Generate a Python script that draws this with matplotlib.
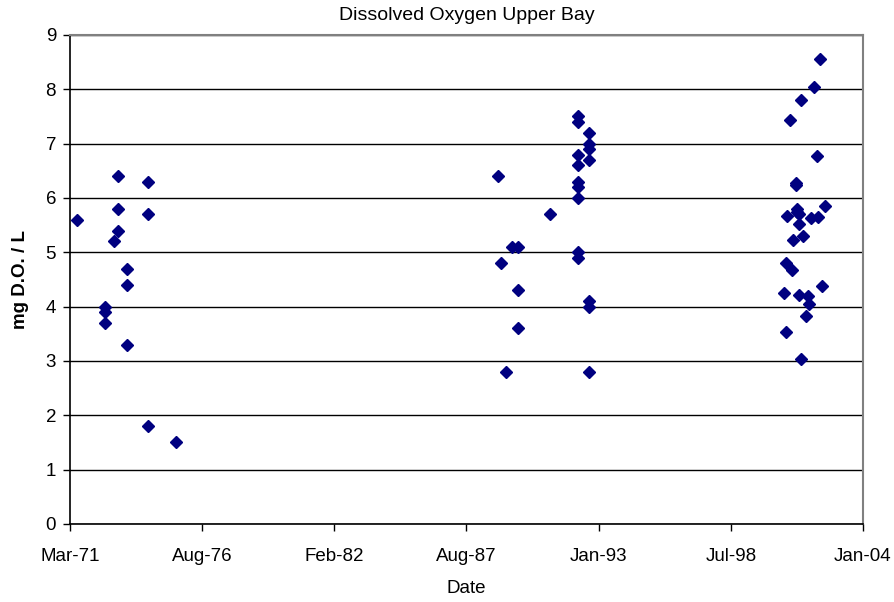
import datetime as dt
import matplotlib
matplotlib.use("Agg")
import matplotlib.pyplot as plt
import matplotlib.dates as mdates

plt.rcParams['font.family'] = ['Liberation Sans', 'DejaVu Sans']

# sample dates and dissolved oxygen (mg/L)
dates = [
    "1971-06-17",
    "1972-08-22", "1972-08-22", "1972-08-22",
    "1973-01-01",
    "1973-03-05", "1973-03-05", "1973-03-05",
    "1973-07-25", "1973-07-25", "1973-07-25",
    "1974-05-31", "1974-05-31", "1974-05-31",
    "1975-08-01",
    "1988-11-24", "1989-01-08", "1989-03-29",
    "1989-06-23", "1989-09-22", "1989-09-22", "1989-09-22",
    "1991-01-24",
    "1992-03-27", "1992-03-27", "1992-03-27", "1992-03-27", "1992-03-27",
    "1992-03-27", "1992-03-27", "1992-03-27", "1992-03-27",
    "1992-09-09", "1992-09-09", "1992-09-09", "1992-09-09",
    "1992-09-09", "1992-09-09", "1992-09-09",
    "2000-10-03", "2000-11-02", "2000-11-02", "2000-11-22", "2001-01-02",
    "2001-02-01", "2001-02-20", "2001-03-29", "2001-03-29", "2001-04-28",
    "2001-04-28", "2001-05-22", "2001-05-22", "2001-05-22", "2001-06-22",
    "2001-06-22", "2001-07-22", "2001-09-01", "2001-09-27", "2001-10-21",
    "2001-11-15", "2002-01-04", "2002-02-10", "2002-03-06", "2002-03-31",
    "2002-05-05", "2002-06-15",
]
do_values = [
    5.6,
    4.0, 3.9, 3.7,
    5.2,
    6.4, 5.8, 5.4,
    4.7, 4.4, 3.3,
    6.3, 5.7, 1.8,
    1.5,
    6.4, 4.8, 2.8,
    5.1, 5.1, 4.3, 3.6,
    5.7,
    7.5, 7.4, 6.8, 6.6, 6.3, 6.2, 6.0, 5.0, 4.9,
    7.2, 7.0, 6.9, 6.7, 4.1, 4.0, 2.8,
    4.25, 4.81, 3.53, 5.66, 7.43,
    4.68, 5.23, 6.27, 6.23, 5.8,
    5.75, 5.52, 5.7, 4.22, 7.8,
    3.03, 5.3, 3.82, 4.2, 4.05,
    5.64, 8.04, 6.78, 5.65, 8.55,
    4.38, 5.86,
]

x = [dt.datetime.strptime(d, "%Y-%m-%d") for d in dates]

fig = plt.figure(figsize=(8.94, 6.02), dpi=100)
ax = fig.add_axes([0.0783, 0.1296, 0.887, 0.8123])

ax.plot(x, do_values, linestyle='none', marker='D', markersize=6.5,
        color='#000080', zorder=3)

# Excel style date axis: serial 26000 .. 38000 step 2000
base = dt.datetime(1899, 12, 30)
ticks = [base + dt.timedelta(days=s) for s in range(26000, 38001, 2000)]
ax.set_xlim(ticks[0], ticks[-1])
ax.set_xticks(ticks)
ax.xaxis.set_major_formatter(mdates.DateFormatter('%b-%y'))
ax.set_ylim(0, 9)
ax.set_yticks(range(0, 10))

ax.grid(axis='y', color='black', linewidth=1, zorder=1)
for s in ['top', 'right']:
    ax.spines[s].set_color('#808080')
    ax.spines[s].set_linewidth(1.5)
for s in ['left', 'bottom']:
    ax.spines[s].set_color('black')
    ax.spines[s].set_linewidth(1.2)

ax.tick_params(direction='out', length=5, width=1, labelsize=13.5)
ax.tick_params(axis='x', pad=12)
ax.tick_params(axis='y', pad=5)

ax.set_title('Dissolved Oxygen Upper Bay', fontsize=14, pad=11)
ax.set_xlabel('Date', fontsize=13.5, labelpad=11)
ax.set_ylabel('mg D.O. / L', fontsize=13.5, fontweight='bold', labelpad=12)

fig.savefig('out.png', dpi=100)
